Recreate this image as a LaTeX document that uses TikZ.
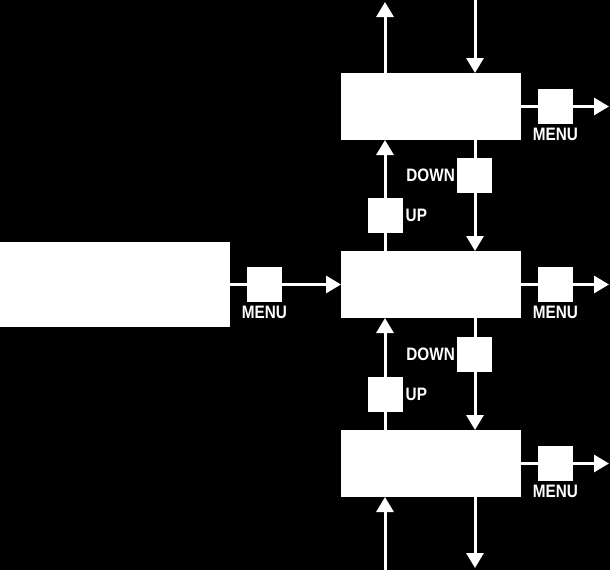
\documentclass[tikz,border=0pt]{standalone}
\usepackage{fontspec}
\setmainfont{Liberation Sans}[FakeStretch=0.85]
\usetikzlibrary{arrows.meta}
\begin{document}
\begin{tikzpicture}[x=1pt,y=-1pt,
  box/.style={fill=white,draw=none,minimum width=180pt,minimum height=67pt,inner sep=0pt,outer sep=0pt},
  key/.style={fill=white,draw=none,minimum size=35pt,inner sep=0pt,outer sep=0pt},
  lbl/.style={text=white,font=\bfseries\fontsize{18}{18}\selectfont,inner sep=0pt},
  conn/.style={draw=white,line width=3pt,-{Triangle[width=17pt,length=15pt]}}]
\fill[black] (0,0) rectangle (610,570);
\useasboundingbox (0,0) rectangle (610,570);
% boxes
\node[box] (top) at (431,106.5) {};
\node[box] (mid) at (431,284.5) {};
\node[box] (bot) at (431,463.5) {};
\node[box,minimum width=230pt,minimum height=85pt] (left) at (115,284.5) {};
% edge coordinates
\coordinate (tU) at (385,2);
\coordinate (tD) at (475,0);
\coordinate (bU) at (385,570);
\coordinate (bD) at (475,568);
\coordinate (rT) at (609,106.5);
\coordinate (rM) at (609,284.5);
\coordinate (rB) at (609,463.5);
% connectors
\draw[conn] (top.north -| tU) -- (tU);
\draw[conn] (tD) -- (top.north -| tD);
\draw[conn] (mid.north -| tU) -- (top.south -| tU);
\draw[conn] (top.south -| tD) -- (mid.north -| tD);
\draw[conn] (bot.north -| tU) -- (mid.south -| tU);
\draw[conn] (mid.south -| tD) -- (bot.north -| tD);
\draw[conn] (bU) -- (bot.south -| bU);
\draw[conn] (bot.south -| bD) -- (bD);
\draw[conn] (top.east) -- (rT);
\draw[conn] (mid.east) -- (rM);
\draw[conn] (bot.east) -- (rB);
\draw[conn] (left.east) -- (mid.west);
% keys
\node[key] (mT) at (555.5,106.5) {};
\node[key] (mM) at (555.5,284.5) {};
\node[key] (mB) at (555.5,463.5) {};
\node[key] (mL) at (264.5,284.5) {};
\node[key] (u1) at (385,215.5) {};
\node[key] (d1) at (474.5,175) {};
\node[key] (d2) at (474.5,354) {};
\node[key] (u2) at (385,394.5) {};
% labels
\node[lbl,anchor=north] at ([yshift=-4pt]mT.south) {MENU};
\node[lbl,anchor=north] at ([yshift=-4pt]mM.south) {MENU};
\node[lbl,anchor=north] at ([yshift=-4pt]mB.south) {MENU};
\node[lbl,anchor=north] at ([yshift=-4pt]mL.south) {MENU};
\node[lbl,anchor=west] at ([xshift=3pt]u1.east) {UP};
\node[lbl,anchor=west] at ([xshift=3pt]u2.east) {UP};
\node[lbl,anchor=east] at ([xshift=-2pt]d1.west) {DOWN};
\node[lbl,anchor=east] at ([xshift=-2pt]d2.west) {DOWN};
\end{tikzpicture}
\end{document}
